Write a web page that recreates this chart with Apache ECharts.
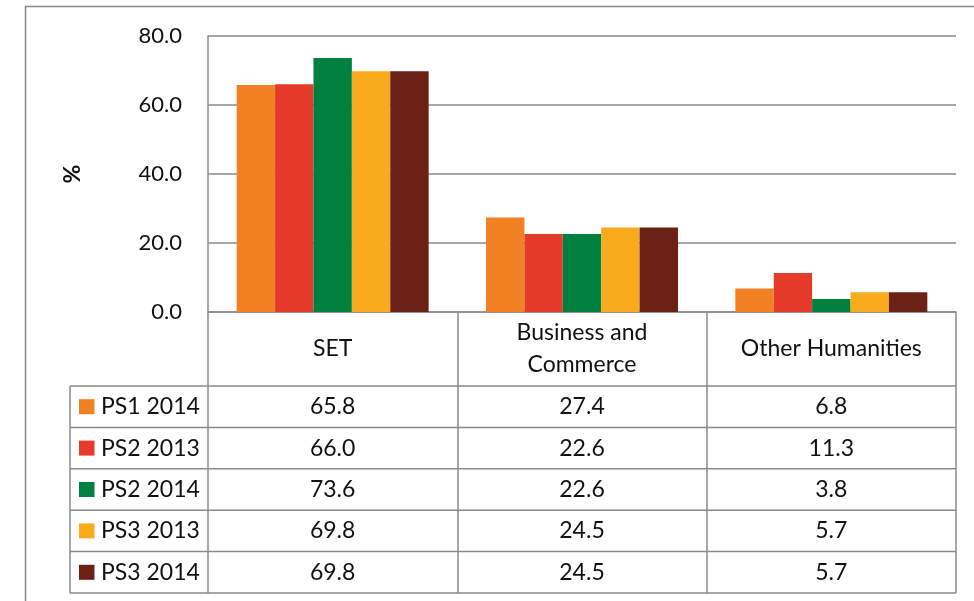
<!DOCTYPE html>
<html>
<head>
<meta charset="utf-8">
<script src="https://cdn.jsdelivr.net/npm/echarts@6/dist/echarts.min.js"></script>
<style>
  html, body { margin: 0; padding: 0; background: #fff; }
  #chart { width: 974px; height: 601px; }
</style>
</head>
<body>
<div id="chart"></div>
<script>
// Field-of-study shares by cohort
const categories = ['SET', 'Business and\nCommerce', 'Other Humanities'];
const seriesNames = ['PS1 2014', 'PS2 2013', 'PS2 2014', 'PS3 2013', 'PS3 2014'];
const ps1_2014 = [65.8, 27.4, 6.8];
const ps2_2013 = [66.0, 22.6, 11.3];
const ps2_2014 = [73.6, 22.6, 3.8];
const ps3_2013 = [69.8, 24.5, 5.7];
const ps3_2014 = [69.8, 24.5, 5.7];
const seriesValues = [ps1_2014, ps2_2013, ps2_2014, ps3_2013, ps3_2014];
const colors = ['#F28124', '#E63A2A', '#00803F', '#F9AA1D', '#6C2116'];

const FONT = 'Lato, "Liberation Sans", sans-serif';
const TEXT = '#111';
const LINE = '#8a8a8a';
const FS = 23;

// plot frame
const G = { left: 208, right: 956, top: 36, bottom: 312 };
const headerBottom = 386;
const rowH = 41.4;
const legendLeft = 70;

const chart = echarts.init(document.getElementById('chart'));

const series = seriesNames.map((name, i) => ({
  name,
  type: 'bar',
  data: seriesValues[i],
  barGap: '0%',
  barCategoryGap: '23%',
  itemStyle: { color: colors[i] },
  silent: true
}));

chart.setOption({
  animation: false,
  grid: { left: G.left, top: G.top, width: G.right - G.left, height: G.bottom - G.top, containLabel: false },
  xAxis: {
    type: 'category',
    data: categories,
    axisLine: { show: true, lineStyle: { color: LINE, width: 1.5 } },
    axisTick: { show: true, alignWithLabel: false, length: 593 - G.bottom, lineStyle: { color: LINE, width: 1.5 } },
    axisLabel: {
      interval: 0, margin: 37, verticalAlign: 'middle', lineHeight: 32,
      fontFamily: FONT, fontSize: FS, color: TEXT
    }
  },
  yAxis: {
    type: 'value',
    min: 0, max: 80, interval: 20,
    name: '%',
    nameLocation: 'middle',
    nameGap: 124,
    nameRotate: 90,
    nameTextStyle: { fontFamily: FONT, fontSize: 23, fontWeight: 'bold', color: TEXT },
    axisLine: { show: true, lineStyle: { color: LINE, width: 1.5 } },
    axisTick: { show: false },
    splitLine: { lineStyle: { color: LINE, width: 1.5 } },
    axisLabel: {
      margin: 26, fontFamily: FONT, fontSize: 22, color: TEXT,
      formatter: v => v.toFixed(1)
    }
  },
  series
});

// Data table under the plot, drawn from the same arrays
const graphics = [];
// outer chart border
graphics.push({ type: 'rect', shape: { x: 25.5, y: 6.5, width: 1200, height: 1200 },
  style: { fill: 'none', stroke: LINE, lineWidth: 1.5 }, z: -1 });

const tableBottom = headerBottom + rowH * seriesNames.length;
// horizontal rules
for (let r = 0; r <= seriesNames.length; r++) {
  const y = headerBottom + rowH * r;
  graphics.push({ type: 'line', shape: { x1: legendLeft, y1: y, x2: G.right, y2: y },
    style: { stroke: LINE, lineWidth: 1.5 } });
}
// legend column left rule
graphics.push({ type: 'line', shape: { x1: legendLeft, y1: headerBottom, x2: legendLeft, y2: tableBottom },
  style: { stroke: LINE, lineWidth: 1.5 } });

seriesNames.forEach((name, r) => {
  const cy = headerBottom + rowH * r + rowH / 2;
  graphics.push({ type: 'rect', shape: { x: 79, y: cy - 7.5, width: 15.5, height: 15 },
    style: { fill: colors[r] } });
  graphics.push({ type: 'text', x: 101, y: cy,
    style: { text: name, fontFamily: FONT, fontSize: FS, fill: TEXT, textVerticalAlign: 'middle', textAlign: 'left' } });
  seriesValues[r].forEach((v, c) => {
    const cx = chart.convertToPixel({ xAxisIndex: 0 }, c);
    graphics.push({ type: 'text', x: cx, y: cy,
      style: { text: v.toFixed(1), fontFamily: FONT, fontSize: FS, fill: TEXT, textVerticalAlign: 'middle', textAlign: 'center' } });
  });
});

chart.setOption({ graphic: graphics });
</script>
</body>
</html>
